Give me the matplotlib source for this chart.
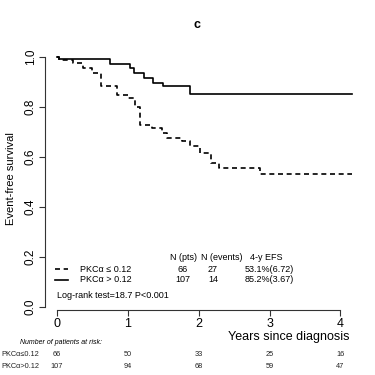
import numpy as np
import matplotlib.pyplot as plt

plt.rcParams['font.family'] = ['Liberation Sans', 'DejaVu Sans']

# Kaplan-Meier step data (years, survival)
t_low = [0, 0.03, 0.23, 0.37, 0.50, 0.62, 0.85, 1.00, 1.10, 1.17, 1.34, 1.48,
         1.55, 1.76, 1.88, 2.02, 2.17, 2.28, 2.86, 4.16]
s_low = [1.0, 0.99, 0.975, 0.955, 0.935, 0.885, 0.85, 0.835, 0.80, 0.728, 0.715,
         0.695, 0.675, 0.665, 0.644, 0.617, 0.577, 0.557, 0.531, 0.531]
t_high = [0, 0.03, 0.75, 1.03, 1.08, 1.23, 1.36, 1.50, 1.88, 4.16]
s_high = [1.0, 0.991, 0.972, 0.955, 0.935, 0.915, 0.898, 0.886, 0.852, 0.852]

groups = ['PKC\u03b1 \u2264 0.12', 'PKC\u03b1 > 0.12']
n_pts = [66, 107]
n_events = [27, 14]
efs = ['53.1%(6.72)', '85.2%(3.67)']
risk_times = [0, 1, 2, 3, 4]
risk_low = [66, 50, 33, 25, 16]
risk_high = [107, 94, 68, 59, 47]

fig = plt.figure(figsize=(3.75, 3.75), dpi=100)
ax = fig.add_axes([45 / 375, 65 / 375, 318 / 375, 263 / 375])

ax.step(t_low, s_low, where='post', color='black', lw=1.2, ls=(0, (3, 2.2)))
ax.step(t_high, s_high, where='post', color='black', lw=1.2)

ax.set_xlim(-0.17, 4.32)
ax.set_ylim(-0.012, 1.04)
for sp in ['top', 'right']:
    ax.spines[sp].set_visible(False)
ax.spines['left'].set_bounds(0, 1)
ax.spines['bottom'].set_bounds(0, 4)
ax.spines['left'].set_color('#333333')
ax.spines['bottom'].set_color('#333333')
ax.set_xticks(risk_times)
ax.set_xticklabels([str(v) for v in risk_times], fontsize=9)
ax.set_yticks([0, 0.2, 0.4, 0.6, 0.8, 1.0])
ax.set_yticklabels(['0.0', '0.2', '0.4', '0.6', '0.8', '1.0'], rotation=90,
                   va='center', fontsize=8.5)
ax.tick_params(length=4, width=0.8, color='#333333', pad=2)
ax.tick_params(axis='x', pad=1.5)
ax.set_ylabel('Event-free survival', fontsize=8, labelpad=6)

fig.text(197 / 375, 1 - 25 / 375, 'c', fontsize=9, fontweight='bold',
         ha='center', va='center')
fig.text(350 / 375, 1 - 337 / 375, 'Years since diagnosis', fontsize=9,
         ha='right', va='center')

# legend block
tr = ax.transAxes
def fx(px):
    return (px - 45) / 318
def fy(py):
    return (310 - py) / 263

fs = 6.5
ax.text(fx(183), fy(257), 'N (pts)', fontsize=fs, ha='center', va='center', transform=tr)
ax.text(fx(222), fy(257), 'N (events)', fontsize=fs, ha='center', va='center', transform=tr)
ax.text(fx(266), fy(257), '4-y EFS', fontsize=fs, ha='center', va='center', transform=tr)
rows_y = [269, 280]
styles = [(0, (3, 2.2)), '-']
for i in range(2):
    ax.plot([fx(55), fx(68)], [fy(rows_y[i])] * 2, color='black', lw=1.2,
            ls=styles[i], transform=tr)
    ax.text(fx(80), fy(rows_y[i]), groups[i], fontsize=fs, ha='left', va='center', transform=tr)
    ax.text(fx(183), fy(rows_y[i]), str(n_pts[i]), fontsize=fs, ha='center', va='center', transform=tr)
    ax.text(fx(213), fy(rows_y[i]), str(n_events[i]), fontsize=fs, ha='center', va='center', transform=tr)
    ax.text(fx(269), fy(rows_y[i]), efs[i], fontsize=fs, ha='center', va='center', transform=tr)
ax.text(fx(57), fy(295), 'Log-rank test=18.7 P<0.001', fontsize=fs, ha='left', va='center',
        transform=tr)

# numbers at risk
fig.text(20 / 375, 1 - 343 / 375, 'Number of patients at risk:', fontsize=5,
         style='italic', ha='left', va='center')
for label, vals, py in [(groups[0], risk_low, 355), (groups[1], risk_high, 366)]:
    fig.text(1 / 375, 1 - py / 375, label.replace(' ', ''), fontsize=5.3, ha='left',
             va='center', color='#222222')
    for t, v in zip(risk_times, vals):
        x = ax.transData.transform((t, 0))[0] / fig.bbox.width
        fig.text(x, 1 - py / 375, str(v), fontsize=5.3, ha='center', va='center',
                 color='#222222')

fig.savefig('out.png', dpi=100)
